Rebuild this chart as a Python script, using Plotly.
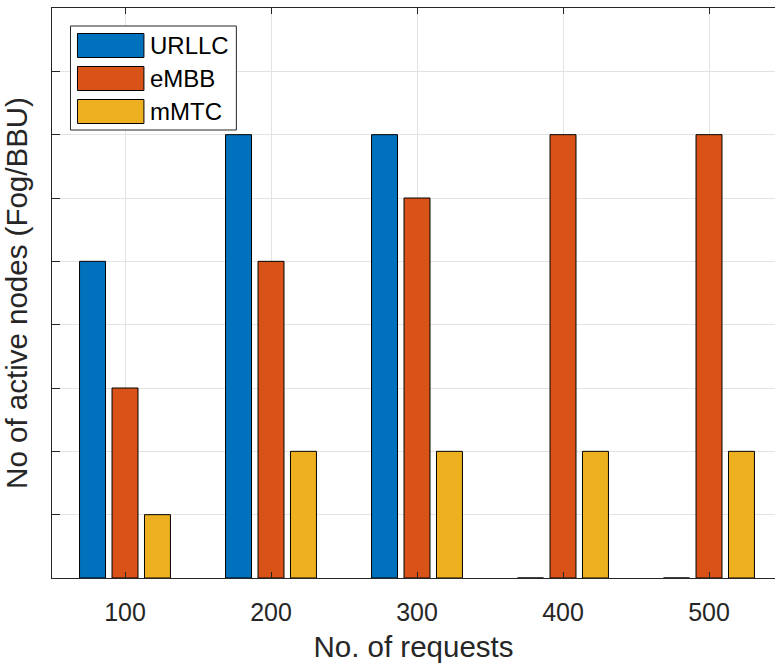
import plotly.graph_objects as go

categories = [100, 200, 300, 400, 500]
series_names = ["URLLC", "eMBB", "mMTC"]
urllc = [5, 7, 7, 0, 0]
embb = [3, 5, 6, 7, 7]
mmtc = [1, 2, 2, 2, 2]
colors = ["#0072BD", "#D95319", "#EDB120"]
y_ticks = list(range(0, 10))

FONT = "Liberation Sans, Arial, sans-serif"
TXT = "#262626"

fig = go.Figure()
for name, vals, col in zip(series_names, [urllc, embb, mmtc], colors):
    fig.add_trace(go.Bar(
        x=categories, y=vals, name=name,
        marker=dict(color=col, line=dict(color="#000000", width=1)),
        showlegend=False,
    ))

# custom legend box with large swatches (MATLAB style)
lx0, lx1, ly0, ly1 = 70, 236, 26, 130
W, H = 775, 666
plot_l, plot_r, plot_t, plot_b = 51.5, 775, 8, 578
def px(x):
    return (x - plot_l) / (plot_r - plot_l)
def py(y):
    return (plot_b - y) / (plot_b - plot_t)

shapes = [dict(type="rect", xref="paper", yref="paper",
               x0=px(lx0), x1=px(lx1), y0=py(ly1), y1=py(ly0),
               line=dict(color=TXT, width=1), fillcolor="white", layer="above")]
annotations = []
for i, (name, col) in enumerate(zip(series_names, colors)):
    top = 33.5 + i * 33
    shapes.append(dict(type="rect", xref="paper", yref="paper",
                       x0=px(77), x1=px(143.5), y0=py(top + 24), y1=py(top),
                       line=dict(color="#000000", width=1), fillcolor=col, layer="above"))
    annotations.append(dict(xref="paper", yref="paper", x=px(148), y=py(top + 12),
                            text=name, showarrow=False, xanchor="left", yanchor="middle",
                            font=dict(family=FONT, size=24, color="#000000")))

fig.update_layout(
    width=W, height=H,
    margin=dict(l=51.5, r=0, t=8, b=88),
    paper_bgcolor="white", plot_bgcolor="white",
    barmode="group", bargap=0.333, bargroupgap=0.2,
    font=dict(family=FONT, color=TXT),
    shapes=shapes, annotations=annotations,
    xaxis=dict(
        range=[50, 545.2], tickvals=categories, ticktext=[str(c) for c in categories],
        ticks="inside", ticklen=6, tickcolor=TXT, tickwidth=1,
        showline=True, linecolor=TXT, linewidth=1, mirror="ticks",
        showgrid=True, gridcolor="#E3E3E3", gridwidth=1, zeroline=False,
        tickfont=dict(size=25, color=TXT, family=FONT), ticklabelstandoff=12,
        title=dict(text="No. of requests", font=dict(size=29.5, color=TXT, family=FONT), standoff=11),
    ),
    yaxis=dict(
        range=[0, 9], tickvals=y_ticks, showticklabels=False,
        ticks="inside", ticklen=8, tickcolor=TXT, tickwidth=1,
        showline=True, linecolor=TXT, linewidth=1, mirror=False,
        showgrid=True, gridcolor="#E3E3E3", gridwidth=1, zeroline=False,
        title=dict(text="No of active nodes (Fog/BBU)", font=dict(size=29.5, color=TXT, family=FONT), standoff=14),
    ),
)

fig.write_html("out.html")
